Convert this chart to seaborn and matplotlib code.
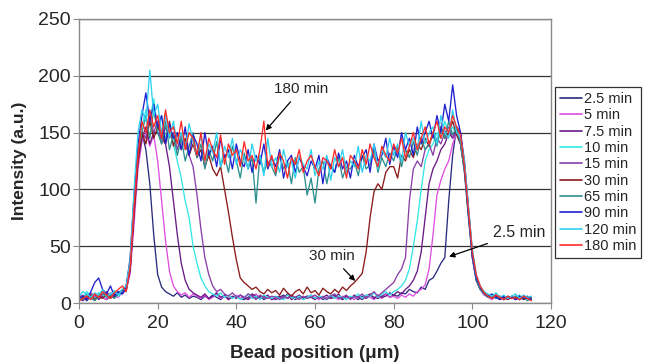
import numpy as np
import pandas as pd
import matplotlib
matplotlib.use("Agg")
import matplotlib.pyplot as plt
import seaborn as sns
from matplotlib.lines import Line2D

position = list(range(0, 116))

labels = ["2.5 min", "5 min", "7.5 min", "10 min", "15 min",
          "30 min", "65 min", "90 min", "120 min", "180 min"]

i_2_5 = [3, 5, 2, 6, 4, 8, 5, 3, 6, 9,
         7, 10, 12, 30, 80, 130, 150, 135, 105, 60,
         25, 14, 10, 8, 6, 9, 5, 7, 4, 6,
         5, 3, 6, 4, 7, 5, 3, 6, 4, 5,
         6, 4, 3, 5, 7, 4, 6, 3, 5, 4,
         3, 5, 7, 4, 6, 3, 5, 4, 6, 5,
         4, 6, 3, 5, 4, 7, 5, 3, 6, 4,
         5, 3, 6, 4, 7, 5, 4, 6, 8, 5,
         7, 6, 9, 8, 12, 10, 9, 14, 12, 20,
         22, 28, 35, 40, 90, 130, 155, 150, 125, 85,
         45, 22, 13, 8, 6, 4, 7, 5, 3, 6,
         4, 5, 3, 6, 4, 5]
i_5 = [6, 3, 5, 8, 4, 7, 5, 3, 9, 6,
       5, 9, 11, 26, 70, 118, 142, 150, 138, 148,
       125, 90, 55, 28, 15, 10, 7, 9, 5, 8,
       6, 4, 7, 3, 5, 8, 4, 6, 3, 5,
       7, 4, 6, 3, 5, 8, 4, 6, 5, 3,
       4, 6, 3, 7, 5, 4, 6, 3, 5, 7,
       5, 3, 6, 4, 7, 5, 3, 6, 4, 5,
       3, 6, 4, 7, 5, 3, 6, 4, 8, 5,
       6, 4, 7, 5, 8, 6, 10, 12, 16, 30,
       60, 95, 108, 118, 125, 140, 150, 145, 120, 82,
       42, 20, 12, 7, 5, 3, 6, 4, 5, 3,
       5, 4, 3, 6, 4, 3]
i_7_5 = [4, 2, 6, 5, 8, 3, 6, 9, 4, 7,
         10, 8, 12, 28, 78, 125, 145, 155, 140, 150,
         150, 145, 140, 120, 90, 60, 35, 20, 12, 9,
         7, 5, 8, 4, 6, 9, 5, 7, 3, 6,
         4, 7, 5, 3, 8, 6, 4, 5, 7, 3,
         5, 6, 4, 8, 3, 5, 7, 4, 6, 5,
         3, 6, 5, 7, 4, 5, 8, 3, 6, 4,
         7, 5, 3, 6, 8, 4, 7, 5, 6, 9,
         7, 10, 8, 12, 15, 20, 28, 45, 75, 105,
         118, 125, 135, 140, 150, 145, 155, 140, 118, 80,
         40, 20, 12, 8, 6, 4, 6, 3, 5, 4,
         6, 3, 5, 4, 6, 3]
i_10 = [8, 5, 10, 6, 4, 9, 7, 5, 8, 11,
        6, 9, 13, 33, 88, 135, 155, 170, 160, 180,
        150, 165, 145, 155, 140, 125, 110, 90, 75, 50,
        35, 22, 15, 10, 8, 6, 9, 5, 7, 4,
        6, 3, 5, 8, 4, 6, 3, 7, 5, 4,
        6, 4, 3, 7, 5, 4, 6, 3, 5, 7,
        4, 6, 5, 3, 7, 4, 6, 5, 3, 6,
        5, 8, 4, 7, 6, 9, 5, 8, 10, 7,
        10, 12, 15, 20, 30, 50, 72, 100, 125, 135,
        140, 150, 145, 160, 150, 155, 148, 140, 118, 80,
        42, 22, 13, 9, 6, 4, 7, 5, 3, 6,
        4, 5, 7, 3, 5, 4]
i_15 = [5, 7, 3, 9, 6, 4, 8, 10, 6, 5,
        8, 10, 16, 35, 85, 130, 150, 145, 165, 150,
        160, 140, 155, 145, 150, 135, 148, 140, 130, 120,
        95, 65, 40, 25, 15, 10, 12, 8, 6, 9,
        5, 7, 4, 8, 6, 3, 7, 5, 4, 6,
        5, 3, 6, 4, 7, 5, 3, 6, 4, 5,
        7, 4, 5, 3, 6, 8, 4, 5, 7, 3,
        6, 5, 8, 4, 7, 10, 6, 9, 12, 15,
        18, 25, 30, 40, 90, 118, 125, 120, 135, 140,
        130, 145, 140, 150, 155, 145, 150, 140, 115, 78,
        40, 20, 12, 8, 5, 7, 4, 6, 3, 5,
        4, 6, 3, 5, 4, 3]
i_30 = [3, 5, 4, 7, 3, 6, 4, 8, 5, 6,
        9, 11, 14, 30, 80, 125, 150, 140, 160, 145,
        155, 150, 140, 160, 138, 150, 135, 145, 130, 140,
        128, 135, 120, 130, 118, 112, 120, 100, 80, 58,
        38, 22, 18, 15, 12, 14, 10, 8, 12, 9,
        11, 7, 13, 9, 6, 10, 12, 8, 14, 9,
        11, 7, 13, 10, 8, 12, 9, 14, 11, 15,
        18, 22, 26, 45, 75, 98, 105, 100, 115, 120,
        120, 110, 130, 125, 135, 128, 140, 135, 145, 138,
        150, 140, 155, 145, 150, 160, 148, 140, 118, 78,
        42, 22, 13, 8, 6, 5, 7, 4, 6, 3,
        5, 4, 6, 3, 5, 4]
i_65 = [5, 3, 8, 4, 2, 6, 9, 5, 7, 4,
        8, 12, 10, 35, 90, 135, 150, 165, 145, 170,
        150, 140, 160, 135, 148, 130, 145, 125, 138, 150,
        128, 140, 118, 135, 125, 142, 120, 130, 115, 138,
        125, 110, 132, 118, 128, 88, 130, 115, 125, 120,
        112, 130, 118, 125, 105, 128, 115, 120, 95, 110,
        88, 118, 125, 105, 122, 115, 128, 110, 120, 118,
        125, 112, 130, 118, 122, 135, 115, 128, 120, 132,
        125, 138, 120, 135, 128, 142, 130, 145, 135, 140,
        150, 138, 155, 145, 160, 148, 155, 140, 115, 75,
        40, 20, 12, 8, 5, 7, 4, 6, 3, 5,
        4, 6, 3, 5, 2, 4]
i_90 = [4, 6, 3, 10, 18, 22, 12, 8, 15, 6,
        10, 8, 14, 40, 95, 140, 165, 185, 160, 175,
        155, 165, 140, 158, 145, 150, 135, 155, 130, 148,
        140, 125, 150, 130, 138, 120, 145, 128, 135, 118,
        140, 125, 120, 135, 115, 130, 122, 140, 118, 128,
        120, 135, 110, 125, 130, 115, 128, 120, 112, 125,
        118, 130, 105, 128, 120, 115, 132, 118, 125, 110,
        130, 120, 128, 135, 115, 140, 125, 130, 145, 122,
        138, 128, 150, 135, 145, 130, 155, 140, 150, 160,
        145, 165, 150, 175, 160, 192, 165, 150, 120, 80,
        42, 22, 14, 9, 6, 8, 5, 3, 6, 4,
        5, 3, 6, 4, 5, 3]
i_120 = [6, 10, 8, 5, 9, 7, 12, 6, 8, 10,
         7, 12, 15, 38, 100, 150, 170, 160, 205, 165,
         175, 150, 165, 145, 160, 140, 150, 135, 158, 142,
         130, 148, 125, 140, 132, 150, 120, 138, 128, 145,
         122, 135, 128, 118, 140, 125, 130, 112, 145, 120,
         128, 115, 135, 120, 125, 110, 130, 122, 118, 135,
         112, 125, 118, 130, 108, 128, 120, 135, 115, 125,
         120, 138, 115, 130, 125, 140, 118, 135, 128, 145,
         130, 140, 125, 150, 138, 145, 135, 160, 140, 150,
         155, 140, 165, 150, 145, 170, 150, 145, 125, 85,
         48, 25, 15, 10, 8, 6, 9, 5, 7, 4,
         6, 8, 4, 7, 5, 6]
i_180 = [2, 4, 6, 3, 8, 5, 10, 7, 4, 9,
         12, 15, 10, 32, 85, 130, 160, 150, 170, 155,
         165, 145, 170, 150, 155, 140, 160, 135, 150, 145,
         130, 150, 125, 145, 135, 128, 148, 122, 140, 130,
         135, 120, 142, 125, 130, 118, 135, 160, 120, 130,
         115, 132, 125, 110, 128, 122, 135, 115, 125, 130,
         120, 112, 128, 125, 118, 135, 120, 128, 110, 130,
         125, 118, 135, 122, 140, 128, 120, 138, 130, 125,
         140, 132, 145, 128, 138, 150, 135, 145, 155, 140,
         150, 160, 145, 155, 150, 165, 155, 148, 120, 82,
         45, 25, 15, 9, 6, 4, 7, 5, 3, 6,
         4, 5, 3, 6, 4, 2]

series = [i_2_5, i_5, i_7_5, i_10, i_15, i_30, i_65, i_90, i_120, i_180]
colors = ["#2b2b80", "#e04ee0", "#6a1a86", "#33e6e6", "#8a3fa8",
          "#8b1a1a", "#2e8f8f", "#1f1fd0", "#2fd2f0", "#ff2a2a"]

frames = []
for lab, vals in zip(labels, series):
    frames.append(pd.DataFrame({"pos": position, "val": vals, "time": lab}))
df = pd.concat(frames, ignore_index=True)

sns.set_style("white")
plt.rcParams["font.family"] = ["Liberation Sans", "DejaVu Sans"]

fig = plt.figure(figsize=(6.47, 3.62), dpi=100)
ax = fig.add_axes([79 / 647, 1 - 303 / 362, (551 - 79) / 647, (303 - 19) / 362])

sns.lineplot(data=df, x="pos", y="val", hue="time", hue_order=labels,
             palette=colors, estimator=None, sort=False, linewidth=0.95,
             ax=ax, legend=False)

ax.set_xlim(0, 120)
ax.set_ylim(0, 250)
ax.set_xticks(range(0, 121, 20))
ax.set_yticks(range(0, 251, 50))
ax.yaxis.grid(True, color="#333333", linewidth=0.9)
ax.xaxis.grid(False)
ax.set_axisbelow(True)
for s in ax.spines.values():
    s.set_color("#8a8a8a")
    s.set_linewidth(1.0)
ax.tick_params(axis="both", which="both", direction="out", length=4,
               color="#8a8a8a", labelsize=14, left=True, bottom=True)
ax.tick_params(axis="x", pad=5)
ax.tick_params(axis="y", pad=2)
ax.set_xlabel("Bead position (μm)", fontsize=13.5, fontweight="bold", labelpad=9)
ax.set_ylabel("Intensity (a.u.)", fontsize=12.5, fontweight="bold", labelpad=8)

handles = [Line2D([0], [0], color=c, lw=1.2) for c in colors]
leg = ax.legend(handles, labels, loc="upper left", bbox_to_anchor=(1.008, 0.761),
                borderaxespad=0, frameon=True, fancybox=False, fontsize=10.5,
                handlelength=1.5, handletextpad=0.15, labelspacing=0.16,
                borderpad=0.35)
leg.get_frame().set_edgecolor("black")
leg.get_frame().set_linewidth(0.9)

arrow = dict(arrowstyle="-|>", color="black", lw=0.9, mutation_scale=8)
ax.annotate("180 min", xy=(47, 150), xytext=(56.5, 188), fontsize=11,
            ha="center", va="center", arrowprops=arrow)
ax.annotate("30 min", xy=(70.7, 17.6), xytext=(64.3, 41), fontsize=11,
            ha="center", va="center", arrowprops=arrow)
ax.annotate("2.5 min", xy=(93.4, 40), xytext=(112, 62), fontsize=11.5,
            ha="center", va="center", arrowprops=arrow)

fig.savefig("out.png", dpi=100)
